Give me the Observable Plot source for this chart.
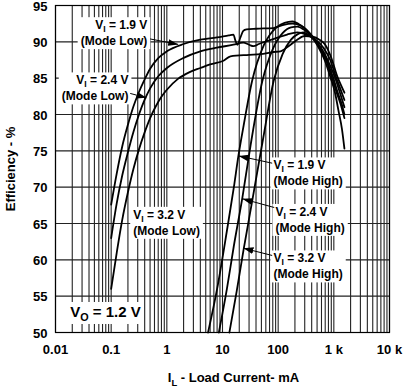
<!DOCTYPE html>
<html><head><meta charset="utf-8">
<script src="https://cdn.jsdelivr.net/npm/d3@7"></script>
<script src="https://cdn.jsdelivr.net/npm/@observablehq/plot@0.6"></script>
<style>
body{margin:0;background:#fff;}
</style></head><body><div id="chart"></div>
<script>
// ---- axis ticks ----
const xTicks = [0.01, 0.1, 1, 10, 100, 1000, 10000];
const xTickLabels = ["0.01", "0.1", "1", "10", "100", "1 k", "10 k"];
const yTicks = [50, 55, 60, 65, 70, 75, 80, 85, 90, 95];
const xTitle = "I|L| - Load Current- mA";
const yTitle = "Efficiency - %";

// ---- series (load current mA, efficiency %) ----
const low19Current = [0.1,0.126,0.158,0.2,0.251,0.316,0.398,0.501,0.708,1,2,4,8,13,15.7,17,18.5,21,23.6,27,40,82,120,180,260,380,530,720,920,1150,1350,1550];
const low19Eff     = [67.6,71.9,75.6,78.6,81.1,83.1,84.8,86.3,87.8,88.7,89.7,90.3,90.6,90.9,91.0,90.2,89.6,90.6,91.5,91.7,91.8,91.9,92.3,92.5,92.2,91.1,89.6,87.6,85.1,82.8,81.2,79.5];

const low24Current = [0.1,0.126,0.158,0.2,0.251,0.316,0.398,0.501,0.708,1,2,4,7.9,15.7,23.6,30,36,45,63,100,145,220,320,450,650,850,1100,1300,1550];
const low24Eff     = [63,67.8,71.6,74.8,77.6,80,82,83.6,85.3,86.4,87.8,88.7,89.2,89.6,89.9,89.6,89.4,89.7,90.1,90.6,91.0,91.3,91.0,90.4,89.2,87.6,85.1,83.6,82];

const low32Current = [0.1,0.126,0.158,0.2,0.251,0.316,0.398,0.501,0.631,0.794,1,1.585,2.512,4,6,10.4,13.9,30,48,82,110,160,220,300,420,550,700,900,1170,1350,1550];
const low32Eff     = [56,61,65.5,69.3,72.5,75.2,77.5,79.5,81.1,82.4,83.4,84.9,85.8,86.4,86.9,87.4,88.0,88.2,88.3,88.6,88.7,89.5,90.3,90.8,90.7,90.3,89.6,87.8,85.1,84,83];

const high19Current = [5.5,8,12,16,19.3,24,34,55,90,130,180,250,350,500,700,870,1050,1214,1400,1550];
const high19Eff     = [50,56,64,70,74.3,78.5,84.6,89.5,91.9,92.6,92.8,92.3,91.3,89.6,87.3,85.1,83,80.5,78,75.3];

const high24Current = [8.6,12,15.9,22.8,32,52,80,120,170,220,300,400,570,800,970,1200,1400,1550];
const high24Eff     = [50,56,61.8,68.6,75.8,84.6,89,91.2,92,92.1,91.6,90.7,89.1,86.8,85.1,82.8,81.3,80];

const high32Current = [13.3,18,23.8,34,54,83,120,170,230,280,400,620,850,1050,1300,1550];
const high32Eff     = [50,55.7,61.3,68,76.8,84.6,88.3,90.3,91.1,91.3,90.6,88.9,86.8,85.1,82.9,81];

const seriesNames = ["1.9 V Low","2.4 V Low","3.2 V Low","1.9 V High","2.4 V High","3.2 V High"];
const seriesCurrents = [low19Current, low24Current, low32Current, high19Current, high24Current, high32Current];
const seriesEffs = [low19Eff, low24Eff, low32Eff, high19Eff, high24Eff, high32Eff];

// ---- annotations (data coordinates) ----
const labelsRight = [
  {x: 0.446, y: 93.3, text: "V|I| = 1.9 V\n(Mode Low)"},
  {x: 0.204, y: 85.7, text: "V|I| = 2.4 V\n(Mode Low)"}
];
const labelsLeft = [
  {x: 0.249, y: 67.2, text: "V|I| = 3.2 V\n(Mode Low)"},
  {x: 82.2, y: 74.0, text: "V|I| = 1.9 V\n(Mode High)"},
  {x: 89.3, y: 67.6, text: "V|I| = 2.4 V\n(Mode High)"},
  {x: 82.2, y: 61.2, text: "V|I| = 3.2 V\n(Mode High)"}
];
const outputLabel = [{x: 0.0184, y: 53.6, text: "V|O| = 1.2 V"}];
const arrows = [
  {x1: 0.5, y1: 90.4, x2: 1.6, y2: 89.65},
  {x1: 0.22, y1: 82.9, x2: 0.43, y2: 82.3},
  {x1: 78, y1: 73.3, x2: 19.5, y2: 74.3},
  {x1: 85, y1: 67.2, x2: 22.8, y2: 68.4},
  {x1: 78, y1: 60.6, x2: 23.8, y2: 61.6}
];

// ---- build tables ----
const rows = [];
seriesNames.forEach((s, i) => seriesCurrents[i].forEach((c, j) => rows.push({series: s, current: c, eff: seriesEffs[i][j]})));
const minorGrid = [];
for (const d of [0.01, 0.1, 1, 10, 100, 1000]) for (let k = 1; k <= 9; k++) minorGrid.push(+(k * d).toPrecision(3));
minorGrid.push(10000);

const gridColor = "#222";
const plot = Plot.plot({
  width: 406, height: 387,
  marginLeft: 55, marginRight: 17, marginTop: 5, marginBottom: 55,
  style: {fontFamily: "'Liberation Sans', Arial, sans-serif", fontWeight: "bold", fontSize: "13px", background: "white", color: "black", overflow: "visible"},
  x: {type: "log", domain: [0.01, 10000]},
  y: {domain: [50, 95]},
  marks: [
    Plot.ruleX(minorGrid, {stroke: gridColor, strokeWidth: 1.1}),
    Plot.ruleY(yTicks, {stroke: gridColor, strokeWidth: 1.1}),
    Plot.frame({stroke: "black", strokeWidth: 1.2}),
    Plot.axisX(xTicks, {tickSize: 0, tickPadding: 12, tickFormat: d => xTickLabels[xTicks.indexOf(d)], label: null, fontSize: 13, fontWeight: "bold"}),
    Plot.axisY(yTicks, {tickSize: 0, tickPadding: 8, dy: 1, label: null, fontSize: 13, fontWeight: "bold"}),
    Plot.text([yTitle], {frameAnchor: "left", dx: -45, rotate: -90, textAnchor: "middle", lineAnchor: "middle", fontSize: 13, fontWeight: "bold"}),
    Plot.text([xTitle], {frameAnchor: "bottom", dx: 11, dy: 45, textAnchor: "middle", lineAnchor: "middle", fontSize: 13, fontWeight: "bold"}),
    Plot.text(labelsRight, {x: "x", y: "y", text: "text", textAnchor: "end", lineAnchor: "top", lineHeight: 1.33, fontSize: 12, fontWeight: "bold"}),
    Plot.text(labelsLeft, {x: "x", y: "y", text: "text", textAnchor: "start", lineAnchor: "top", lineHeight: 1.33, fontSize: 12, fontWeight: "bold"}),
    Plot.text(outputLabel, {x: "x", y: "y", text: "text", textAnchor: "start", lineAnchor: "top", fontSize: 15, fontWeight: "bold"}),
    Plot.line(rows, {x: "current", y: "eff", z: "series", stroke: "black", strokeWidth: 1.8, curve: "monotone-x"}),
    Plot.link(arrows, {x1: "x1", y1: "y1", x2: "x2", y2: "y2", stroke: "black", strokeWidth: 1})
  ]
});
document.getElementById("chart").appendChild(plot);

// ---- post-processing: subscripts, label boxes, arrowheads ----
const ns = "http://www.w3.org/2000/svg";
const svg = document.querySelector("#chart svg");
function applySubscripts(textEl) {
  const size = parseFloat(textEl.getAttribute("font-size") || textEl.parentNode.getAttribute("font-size") || 13);
  const shift = Math.round(size * 0.28);
  const tspans = [...textEl.querySelectorAll("tspan")];
  const targets = tspans.length ? tspans : [textEl];
  for (const t of targets) {
    const s = t.textContent;
    if (!s.includes("|")) continue;
    const parts = s.split("|");
    t.textContent = "";
    parts.forEach((p, i) => {
      const sp = document.createElementNS(ns, "tspan");
      sp.textContent = p;
      if (i % 2 === 1) { sp.setAttribute("dy", shift); sp.setAttribute("font-size", (size * 0.72).toFixed(1)); }
      else if (i > 0) sp.setAttribute("dy", -shift);
      t.appendChild(sp);
    });
  }
}
svg.querySelectorAll("text").forEach(applySubscripts);
svg.querySelectorAll("text").forEach(t => {
  if (!t.textContent.includes("=")) return;
  const b = t.getBBox();
  const r = document.createElementNS(ns, "rect");
  r.setAttribute("x", b.x - 3); r.setAttribute("y", b.y - 1);
  r.setAttribute("width", b.width + 6); r.setAttribute("height", b.height + 2);
  r.setAttribute("fill", "white"); r.setAttribute("stroke", "none");
  if (t.getAttribute("transform")) r.setAttribute("transform", t.getAttribute("transform"));
  t.parentNode.insertBefore(r, t);
});
const defs = document.createElementNS(ns, "defs");
defs.innerHTML = '<marker id="ahead" viewBox="0 0 10 10" refX="10" refY="5" markerWidth="10" markerHeight="10" markerUnits="userSpaceOnUse" orient="auto"><path d="M0,1.6L10,5L0,8.4Z" fill="black"/></marker>';
svg.insertBefore(defs, svg.firstChild);
svg.querySelectorAll('g[aria-label="link"] path').forEach(p => p.setAttribute("marker-end", "url(#ahead)"));
</script></body></html>
